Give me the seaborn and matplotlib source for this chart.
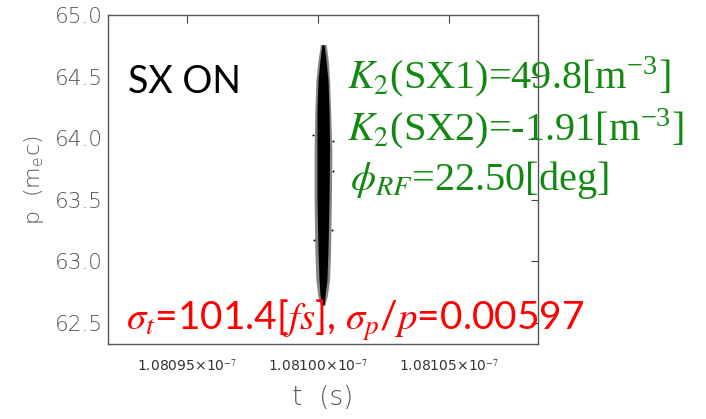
import numpy as np
import pandas as pd
import matplotlib
matplotlib.use("Agg")
import matplotlib.pyplot as plt
import seaborn as sns

# ---- data ----
t_center_ns = 108.1002          # bunch centre (ns)
p_levels = [64.76, 64.635, 64.472, 64.229, 63.904, 63.498, 63.093, 62.849, 62.727, 62.646]
core_left_fs = [-40, -115, -190, -230, -230, -230, -190, -150, -115, -40]
core_right_fs = [40, 115, 190, 230, 250, 230, 190, 150, 80, 40]
halo_left_fs = [-100, -190, -270, -310, -340, -340, -310, -270, -200, -100]
halo_right_fs = [120, 200, 250, 290, 340, 320, 290, 250, 170, 70]
outlier_dt_fs = [382, 382, -382, -344, 344]
outlier_p = [63.977, 63.734, 64.026, 63.174, 63.255]

xticks_ns = [108.095, 108.100, 108.105]
xtick_labels = ["1.08095×10$^{-7}$", "1.08100×10$^{-7}$", "1.08105×10$^{-7}$"]
yticks = [62.5, 63.0, 63.5, 64.0, 64.5, 65.0]

sns.set_theme(style="white")
plt.rcParams["font.family"] = ["DejaVu Sans"]
plt.rcParams["mathtext.fontset"] = "stix"

W, H = 706, 419
fig = plt.figure(figsize=(W / 100, H / 100), dpi=100)
ax = fig.add_axes([108 / W, 1 - 344 / H, (538 - 108) / W, (344 - 15) / H])

fs2ns = 1e-6
p = np.array(p_levels)
ax.fill_betweenx(p, t_center_ns + np.array(halo_left_fs) * fs2ns,
                 t_center_ns + np.array(halo_right_fs) * fs2ns,
                 color="#333333", alpha=0.6, linewidth=0)
ax.fill_betweenx(p, t_center_ns + np.array(core_left_fs) * fs2ns,
                 t_center_ns + np.array(core_right_fs) * fs2ns,
                 color="black", linewidth=0)
df_out = pd.DataFrame({"t": t_center_ns + np.array(outlier_dt_fs) * fs2ns, "p": outlier_p})
sns.scatterplot(data=df_out, x="t", y="p", ax=ax, s=2, color="black", linewidth=0)

ax.set_xlim(108.09199, 108.10841)
ax.set_ylim(62.33, 65.0)
ax.set_xticks(xticks_ns)
ax.set_xticklabels(xtick_labels, fontsize=10, color="#333333")
ax.set_yticks(yticks)
ax.set_yticklabels([f"{v:.1f}" for v in yticks], fontsize=15.5, color="#555555",
                   fontweight="light")
ax.tick_params(axis="both", direction="in", top=True, right=True, color="#444444",
               width=0.8)
ax.tick_params(axis="x", length=6, pad=10)
ax.tick_params(axis="y", length=5, pad=4)
for s in ax.spines.values():
    s.set_color("#555555")
    s.set_linewidth(1.0)
ax.set_xlabel("t  (s)", fontsize=19, color="#555555", labelpad=8, fontweight="light")
ax.set_ylabel("p  (m$_\\mathregular{e}$c)", fontsize=16, color="#555555", labelpad=6,
              fontweight="light")

def ftext(x, y, s, **kw):
    fig.text(x / W, 1 - y / H, s, va="baseline", ha="left", **kw)

ftext(128, 93, "SX ON", fontsize=27, color="black", family=["Lato", "DejaVu Sans"])

green = "#128A12"
ftext(347, 88, "$K_2$(SX1)=49.8[m$^{\\mathregular{-3}}$]", fontsize=29, color=green,
      family=["Liberation Serif"])
ftext(347, 140, "$K_2$(SX2)=-1.91[m$^{\\mathregular{-3}}$]", fontsize=29, color=green,
      family=["Liberation Serif"])
ftext(350, 190, "$\\phi_{RF}$=22.50[deg]", fontsize=29, color=green,
      family=["Liberation Serif"])

ftext(126, 330, "$\\sigma_t$=101.4[$fs$], $\\sigma_p$/$p$=0.00597", fontsize=28,
      color="#FF0000", family=["Lato", "DejaVu Sans"])

fig.savefig("out.png", dpi=100)
